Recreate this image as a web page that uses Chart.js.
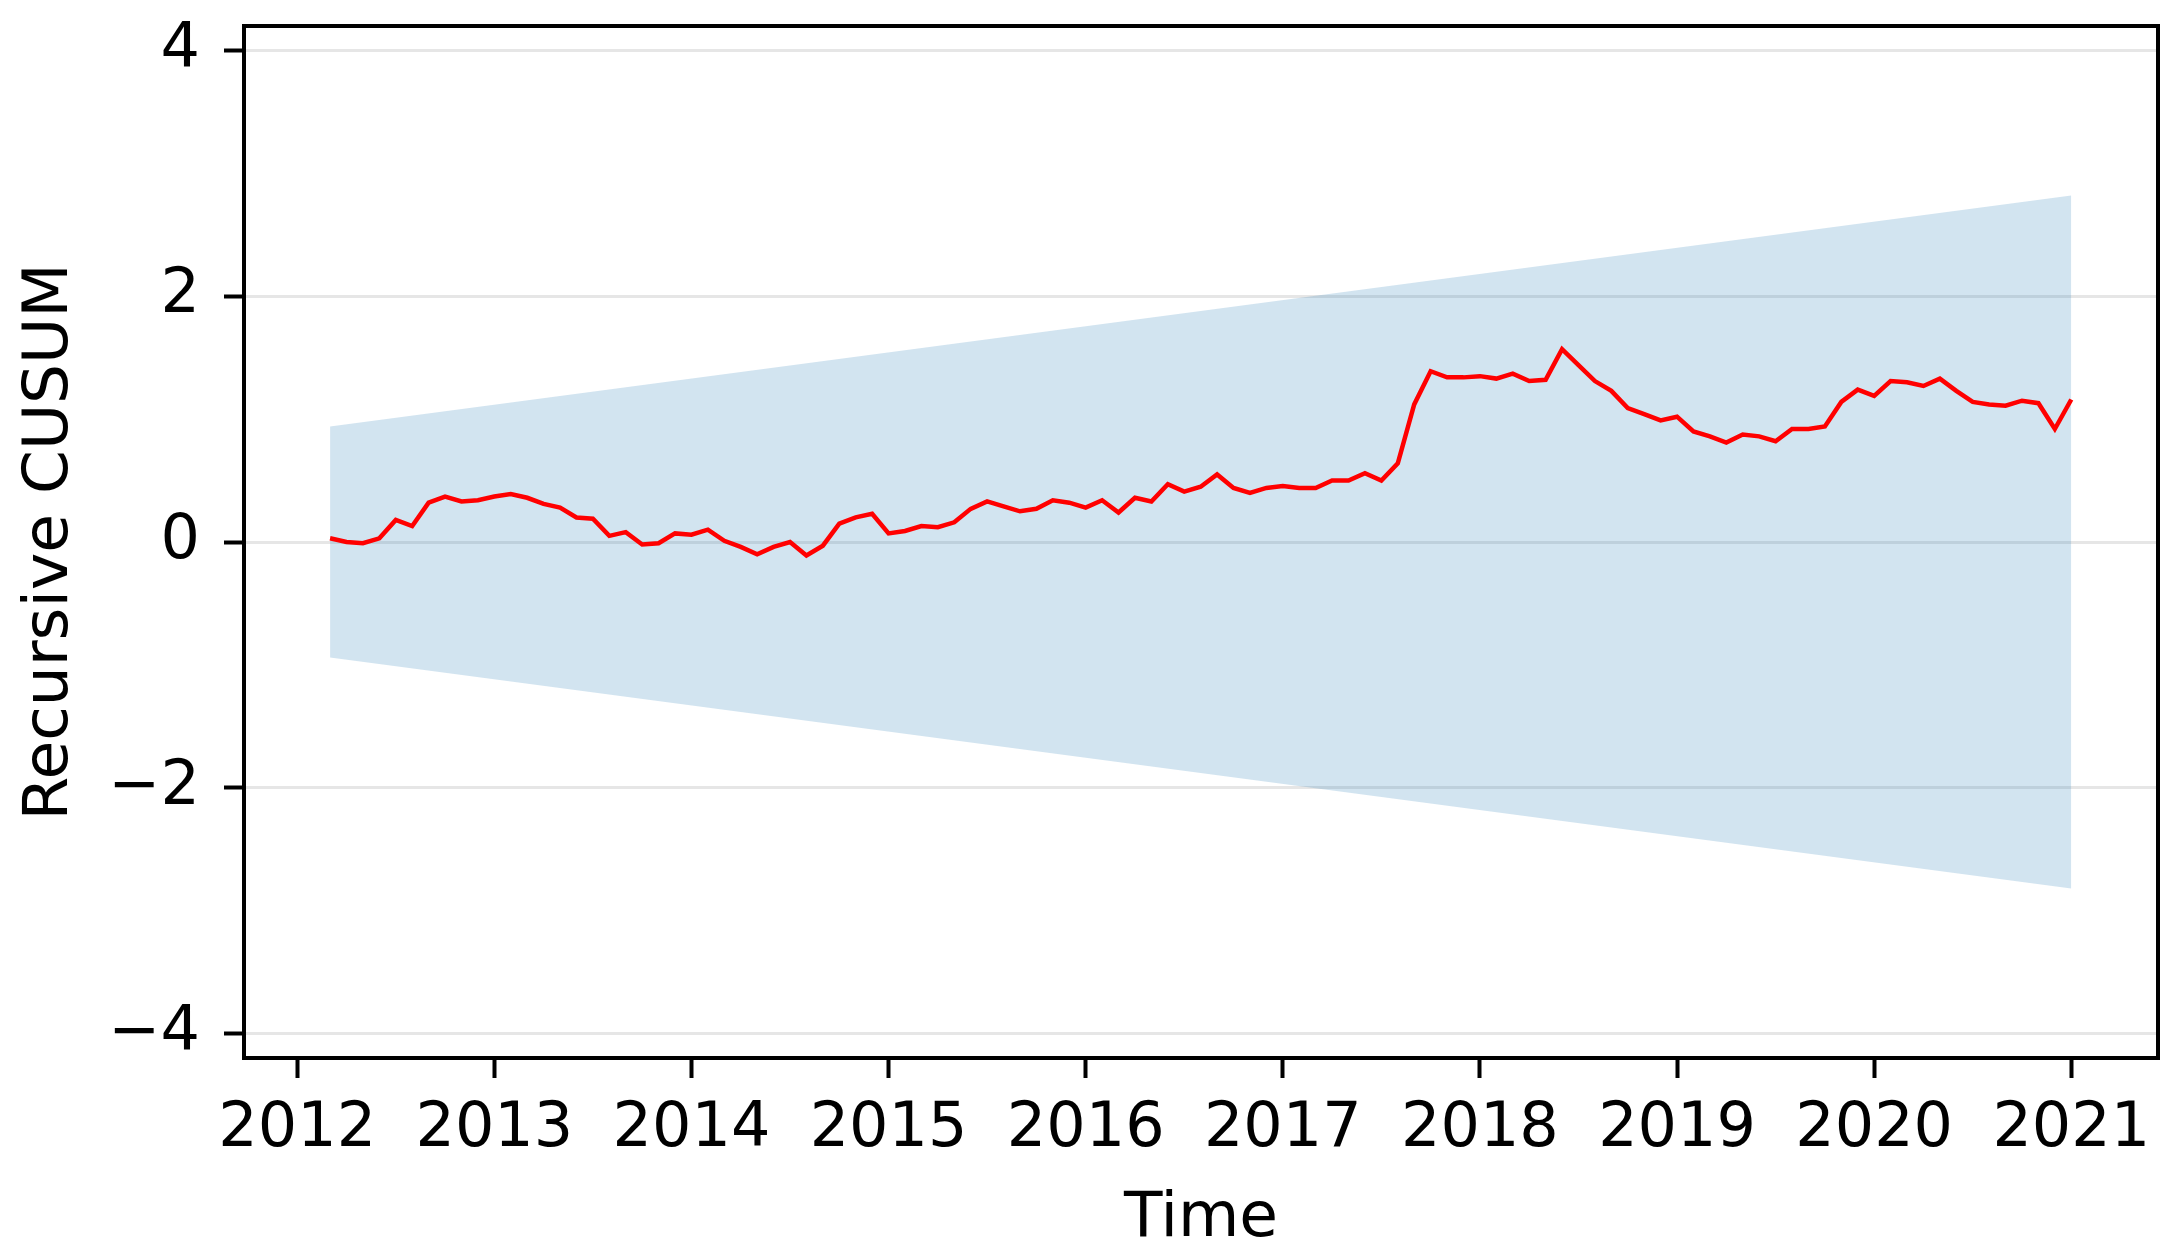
<!DOCTYPE html>
<html>
<head>
<meta charset="utf-8">
<script src="https://cdn.jsdelivr.net/npm/chart.js@4.4.0/dist/chart.umd.min.js"></script>
<style>
  html, body { margin: 0; padding: 0; background: #fff; }
  canvas { display: block; }
</style>
</head>
<body>
<canvas id="cusumChart" width="2175" height="1255"></canvas>
<script>
// monthly recursive CUSUM, Mar 2012 .. Jan 2021
const startYear = 2012;
const startMonth = 3;
const cusum = [
  0.03, 0.00, -0.01, 0.03, 0.18, 0.13, 0.32, 0.37, 0.33, 0.34,
  0.37, 0.39, 0.36, 0.31, 0.28, 0.20, 0.19, 0.05, 0.08, -0.02,
  -0.01, 0.07, 0.06, 0.10, 0.01, -0.04, -0.10, -0.04, 0.00, -0.11,
  -0.03, 0.15, 0.20, 0.23, 0.07, 0.09, 0.13, 0.12, 0.16, 0.27,
  0.33, 0.29, 0.25, 0.27, 0.34, 0.32, 0.28, 0.34, 0.24, 0.36,
  0.33, 0.47, 0.41, 0.45, 0.55, 0.44, 0.40, 0.44, 0.455, 0.44,
  0.44, 0.50, 0.50, 0.56, 0.50, 0.64, 1.12, 1.39, 1.34, 1.34,
  1.35, 1.33, 1.37, 1.31, 1.32, 1.57, 1.44, 1.31, 1.23, 1.09,
  1.04, 0.99, 1.02, 0.90, 0.86, 0.81, 0.875, 0.86, 0.82, 0.92,
  0.92, 0.94, 1.14, 1.24, 1.19, 1.31, 1.30, 1.27, 1.33, 1.23,
  1.14, 1.12, 1.11, 1.15, 1.13, 0.92, 1.16
];
// 5% significance bounds at first and last date
const bandUpper = [0.94, 2.82];
const bandLower = [-0.94, -2.82];

const xTicks = [2012, 2013, 2014, 2015, 2016, 2017, 2018, 2019, 2020, 2021];
const yTicks = [-4, -2, 0, 2, 4];

// month index -> decimal year
const months = cusum.map((_, i) => {
  const m = startMonth - 1 + i;
  return startYear + Math.floor(m / 12) + (m % 12) / 12;
});
const first = months[0];
const last = months[months.length - 1];

const tickFont = { family: "'DejaVu Sans', sans-serif", size: 62 };
const titleFont = { family: "'DejaVu Sans', sans-serif", size: 63 };

const frame = {
  id: "frame",
  afterDraw(chart) {
    const a = chart.chartArea, c = chart.ctx;
    c.save();
    c.strokeStyle = "#000";
    c.lineWidth = 4;
    c.strokeRect(a.left, a.top, a.right - a.left, a.bottom - a.top);
    c.restore();
  }
};

new Chart(document.getElementById("cusumChart"), {
  type: "line",
  data: {
    datasets: [
      {
        data: months.map((x, i) => ({ x, y: cusum[i] })),
        borderColor: "#ff0000",
        borderWidth: 4.5,
        pointRadius: 0,
        tension: 0,
        fill: false,
        order: 0
      },
      {
        data: [{ x: first, y: bandUpper[0] }, { x: last, y: bandUpper[1] }],
        borderWidth: 0,
        pointRadius: 0,
        backgroundColor: "rgba(31,119,180,0.2)",
        fill: "+1",
        order: 1
      },
      {
        data: [{ x: first, y: bandLower[0] }, { x: last, y: bandLower[1] }],
        borderWidth: 0,
        pointRadius: 0,
        fill: false,
        order: 2
      }
    ]
  },
  options: {
    responsive: false,
    animation: false,
    devicePixelRatio: 1,
    layout: { padding: { left: 0, right: 17, top: 26, bottom: 0 } },
    plugins: { legend: { display: false }, tooltip: { enabled: false } },
    scales: {
      x: {
        type: "linear",
        min: 2011.73,
        max: 2021.44,
        afterBuildTicks: s => { s.ticks = xTicks.map(v => ({ value: v })); },
        afterFit: s => { s.height = 197; s.paddingLeft = 0; s.paddingRight = 0; },
        grid: { drawOnChartArea: false, tickLength: 20, tickWidth: 4, tickColor: "#000" },
        border: { display: true, color: "#000", width: 4 },
        ticks: { font: tickFont, color: "#000", padding: 15, maxRotation: 0, callback: v => String(v) },
        title: { display: true, text: "Time", font: titleFont, color: "#000", padding: { top: 0, bottom: -2 } }
      },
      y: {
        min: -4.2,
        max: 4.2,
        afterBuildTicks: s => { s.ticks = yTicks.map(v => ({ value: v })); },
        afterFit: s => { s.width = 244; s.paddingTop = 0; s.paddingBottom = 0; },
        grid: { color: "#e6e6e6", lineWidth: 3, tickLength: 20, tickWidth: 4, tickColor: "#000" },
        border: { display: true, color: "#000", width: 4 },
        ticks: { font: tickFont, color: "#000", padding: 24, callback: v => String(v).replace("-", "\u2212") },
        title: { display: true, text: "Recursive CUSUM", font: titleFont, color: "#000", padding: { top: 13, bottom: 0 } }
      }
    }
  },
  plugins: [frame]
});
</script>
</body>
</html>
